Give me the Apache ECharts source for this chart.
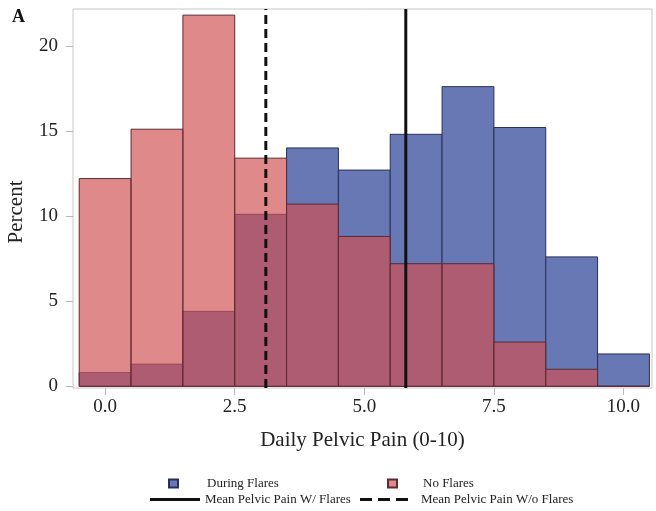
<!DOCTYPE html>
<html>
<head>
<meta charset="utf-8">
<script src="https://cdn.jsdelivr.net/npm/echarts@6/dist/echarts.min.js"></script>
<style>
  html, body { margin: 0; padding: 0; background: #fff; }
  #chart { width: 656px; height: 511px; }
</style>
</head>
<body>
<div id="chart"></div>
<script>
// histogram bins (centre of each bin, width 1)
const painBins = [0, 1, 2, 3, 4, 5, 6, 7, 8, 9, 10];
const duringFlares = [0.8, 1.3, 4.4, 10.1, 14.0, 12.7, 14.8, 17.6, 15.2, 7.6, 1.9];
const noFlares = [12.2, 15.1, 21.8, 13.4, 10.7, 8.8, 7.2, 7.2, 2.6, 1.0, 0];
const meanWithFlares = 5.8;
const meanWithoutFlares = 3.1;
const xTicks = [0, 2.5, 5, 7.5, 10];
const yTicks = [0, 5, 10, 15, 20];

const serif = 'Liberation Serif';
const yMin = -0.1, yMax = 22.16;

function histItem(fill, stroke) {
  return function (params, api) {
    const x = api.value(0), y = api.value(1);
    const p0 = api.coord([x - 0.5, y]);
    const p1 = api.coord([x + 0.5, 0]);
    return {
      type: 'rect',
      shape: { x: p0[0], y: p0[1], width: p1[0] - p0[0], height: p1[1] - p0[1] },
      style: { fill: fill, stroke: stroke, lineWidth: 1 }
    };
  };
}

const chart = echarts.init(document.getElementById('chart'), null, { renderer: 'canvas' });

const blue = '#6878b4', blueEdge = '#28305a';
const red = 'rgba(209,79,82,0.67)', redEdge = '#5c2a33';
const legendText = { fontFamily: serif, fontSize: 13, color: '#222' };

const option = {
  animation: false,
  title: {
    text: 'A', left: 12, top: 8, padding: 0,
    textStyle: { fontFamily: serif, fontWeight: 'bold', fontSize: 18, color: '#111' }
  },
  grid: { left: 73, right: 4, top: 9, bottom: 123, show: true, borderColor: '#c8c8c8', borderWidth: 1, containLabel: false, outerBoundsMode: 'none' },
  xAxis: {
    type: 'value', min: -0.62, max: 10.55,
    name: 'Daily Pelvic Pain (0-10)', nameLocation: 'middle', nameGap: 42,
    nameTextStyle: { fontFamily: serif, fontSize: 21, color: '#222' },
    axisLine: { show: false, onZero: false },
    splitLine: { show: false },
    axisTick: { show: true, length: 7, customValues: xTicks, lineStyle: { color: '#bbb' } },
    axisLabel: { customValues: xTicks, margin: 10, fontFamily: serif, fontSize: 19, color: '#222',
      formatter: v => v.toFixed(1) }
  },
  yAxis: {
    type: 'value', min: yMin, max: yMax,
    axisLine: { show: false, onZero: false },
    splitLine: { show: false },
    axisTick: { show: true, length: 7, customValues: yTicks, lineStyle: { color: '#bbb' } },
    axisLabel: { customValues: yTicks, margin: 15, fontFamily: serif, fontSize: 19, color: '#222' }
  },
  legend: [
    { data: [{ name: 'During Flares', icon: 'rect' }], left: 168, top: 477, padding: 0, itemWidth: 9, itemHeight: 8, selectedMode: false,
      textStyle: Object.assign({ padding: [0, 0, 0, 24] }, legendText) },
    { data: [{ name: 'No Flares', icon: 'rect' }], left: 387, top: 477, padding: 0, itemWidth: 9, itemHeight: 8, selectedMode: false,
      textStyle: Object.assign({ padding: [0, 0, 0, 21] }, legendText) },
    { data: [{ name: 'Mean Pelvic Pain W/ Flares', icon: 'path://M0,0h50v3h-50z', itemStyle: { color: '#111', borderWidth: 0 } }],
      left: 150, top: 493, padding: 0, itemWidth: 50, itemHeight: 10, selectedMode: false,
      textStyle: legendText },
    { data: [{ name: 'Mean Pelvic Pain W/o Flares', icon: 'path://M0,0h12v3h-12zM18,0h12v3h-12zM36,0h12v3h-12z', itemStyle: { color: '#111', borderWidth: 0 } }],
      left: 360, top: 493, padding: 0, itemWidth: 48, itemHeight: 10, selectedMode: false,
      textStyle: Object.assign({ padding: [0, 0, 0, 8] }, legendText) }
  ],
  graphic: [{
    type: 'text', x: 16, y: 212, rotation: Math.PI / 2,
    style: { text: 'Percent', fontFamily: serif, fontSize: 21, fill: '#222', align: 'center', verticalAlign: 'middle' }
  }],
  series: [
    {
      name: 'During Flares', type: 'custom',
      itemStyle: { color: blue, borderColor: blueEdge, borderWidth: 1 },
      renderItem: histItem(blue, blueEdge),
      data: painBins.map((b, i) => [b, duringFlares[i]])
    },
    {
      name: 'No Flares', type: 'custom',
      itemStyle: { color: red, borderColor: redEdge, borderWidth: 1 },
      renderItem: histItem(red, redEdge),
      data: painBins.map((b, i) => [b, noFlares[i]])
    },
    {
      name: 'Mean Pelvic Pain W/ Flares', type: 'line', symbol: 'none',
      lineStyle: { color: '#111', width: 3 },
      itemStyle: { color: '#111' },
      data: [[meanWithFlares, yMin], [meanWithFlares, yMax]]
    },
    {
      name: 'Mean Pelvic Pain W/o Flares', type: 'line', symbol: 'none',
      lineStyle: { color: '#111', width: 3, type: [9, 5] },
      itemStyle: { color: '#111' },
      data: [[meanWithoutFlares, yMin], [meanWithoutFlares, yMax]]
    }
  ]
};

chart.setOption(option);
</script>
</body>
</html>
